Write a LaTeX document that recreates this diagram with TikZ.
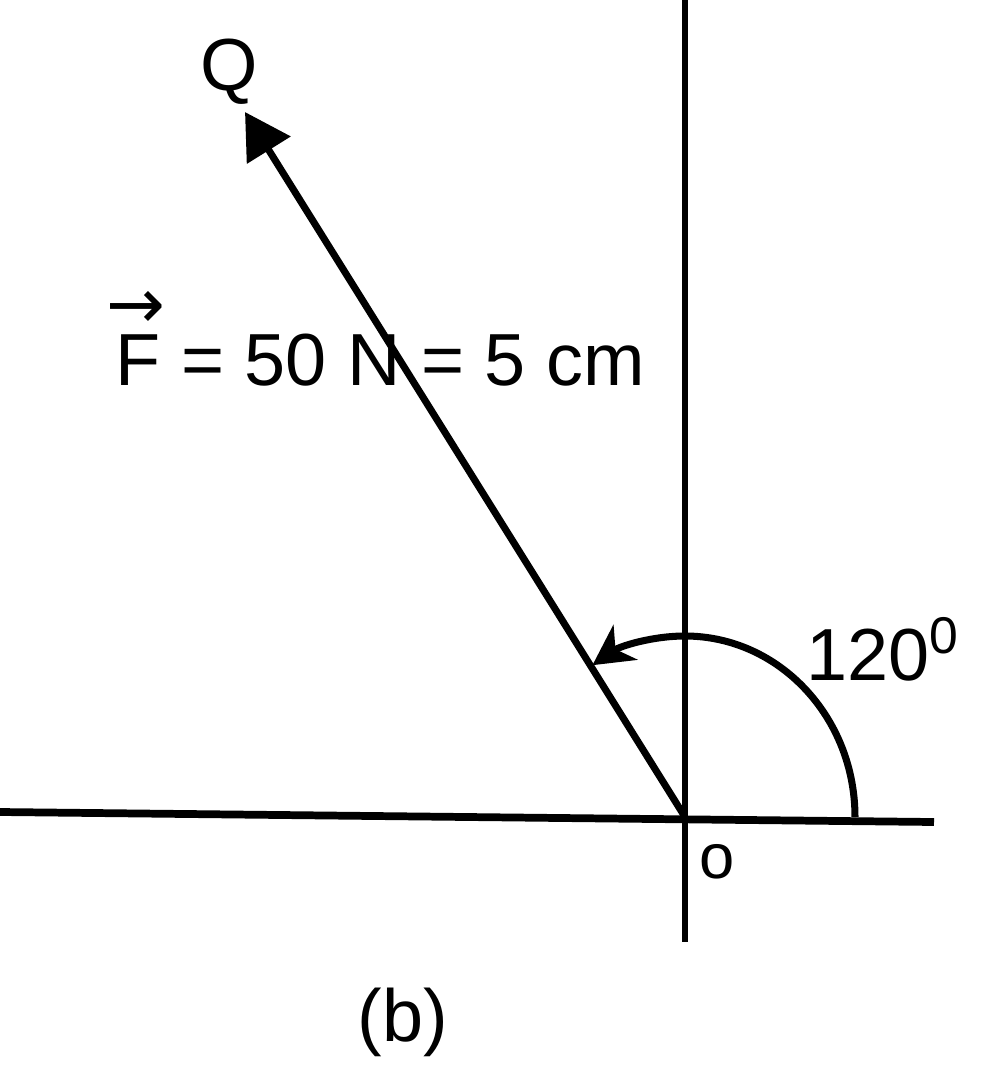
\documentclass[tikz,border=0pt]{standalone}
\usepackage{fontspec}
\setmainfont{Liberation Sans}
\newfontfamily\symfont{DejaVu Sans}
\usetikzlibrary{arrows.meta}
\newcommand{\vecF}{\makebox[0pt][l]{\hspace{-0.09cm}\raisebox{0.57cm}{\symfont\fontsize{20}{20}\selectfont →}}F}
\begin{document}
\begin{tikzpicture}[x=1cm,y=1cm,
  axis/.style={line width=2pt},
  force/.style={line width=2pt,-{Triangle[length=4.5mm,width=5mm]}},
  anglearc/.style={line width=2pt,-{Stealth[length=4mm,width=4.2mm,inset=1.2mm]}},
  lbl/.style={inner sep=0pt,font=\fontsize{21}{25}\selectfont}]
\useasboundingbox (0,0) rectangle (9.92,-10.76);
% key points (1 px = 0.01 cm)
\coordinate (O) at (6.85,-8.17);
\coordinate (Qtip) at (2.45,-1.12);
\coordinate (Vtop) at (6.85,0);
\coordinate (Vbot) at (6.85,-9.42);
\coordinate (Hleft) at (0,-8.12);
\coordinate (Hright) at (9.34,-8.22);
% axes
\draw[axis,line width=1.8pt] (Vtop) -- (Vbot);
\draw[axis,line width=2.2pt] (Hleft) -- (Hright);
% force vector
\draw[force] (O) -- (Qtip);
% angle arc
\draw[anglearc] ([xshift=1.70cm]O) arc[start angle=0,end angle=123,x radius=1.70,y radius=1.81];
% labels
\node[lbl] (Q) at (2.29,-0.72) {Q};
\node[lbl,anchor=base west] (F) at (1.15,-3.85) {\vecF{} = 50 N = 5 cm};
\node[lbl,anchor=base west] (ang) at (8.06,-6.80) {120\textsuperscript{0}};
\node[lbl,font=\fontsize{18}{22}\selectfont,anchor=base west] (Olbl) at (6.99,-8.78) {o};
\node[lbl] (b) at (4.03,-10.22) {(b)};
\end{tikzpicture}
\end{document}
